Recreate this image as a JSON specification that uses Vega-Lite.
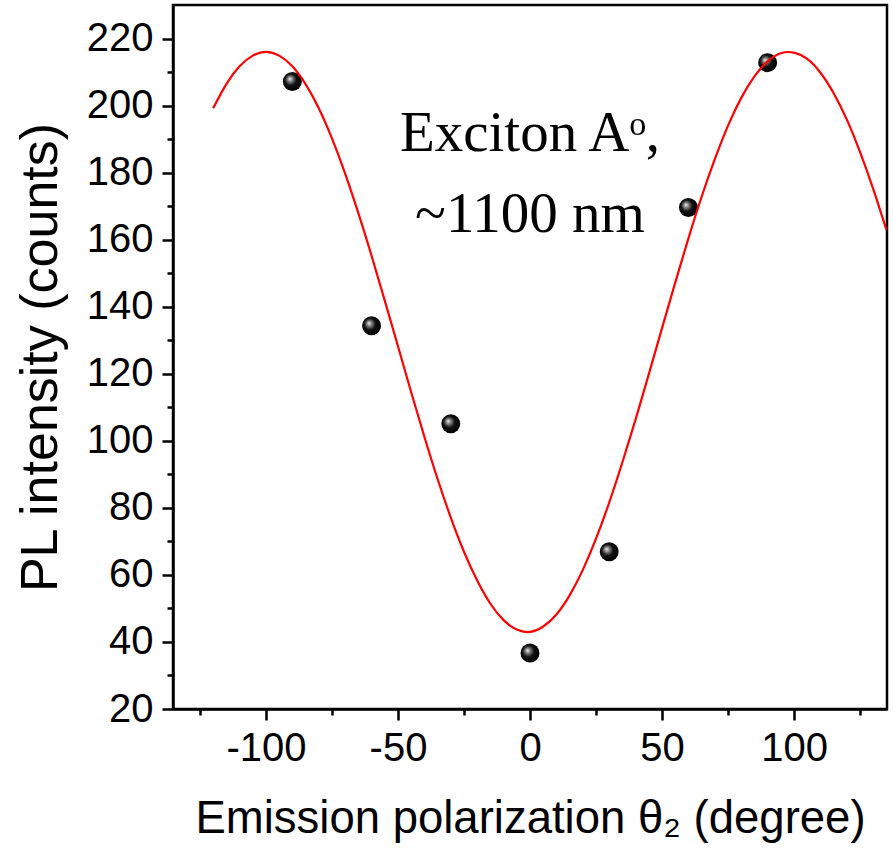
{
  "$schema": "https://vega.github.io/schema/vega-lite/v6.json",
  "width": 714,
  "height": 704,
  "autosize": "none",
  "padding": {"left": 173, "top": 5, "right": 6, "bottom": 144},
  "background": "white",
  "config": {
    "view": {"stroke": "black", "strokeWidth": 2.5},
    "font": "Liberation Sans",
    "axis": {
      "domainColor": "black", "domainWidth": 2.5, "tickColor": "black", "tickWidth": 2.5,
      "grid": false, "labelColor": "black", "titleColor": "black",
      "labelFont": "Liberation Sans", "titleFont": "Liberation Sans",
      "labelFontSize": 40, "titleFontSize": 45.5, "titleFontWeight": "normal"
    }
  },
  "datasets": {
    "pts": [
      {"angle": -90, "intensity": 207.2},
      {"angle": -60, "intensity": 134.3},
      {"angle": -30, "intensity": 105.1},
      {"angle": 0, "intensity": 36.7},
      {"angle": 30, "intensity": 66.9},
      {"angle": 60, "intensity": 169.6},
      {"angle": 90, "intensity": 212.8}
    ],
    "fit": [
      {"angle": -120, "intensity": 199.2}, {"angle": -115, "intensity": 206.4},
      {"angle": -110, "intensity": 211.7}, {"angle": -105, "intensity": 214.9},
      {"angle": -100, "intensity": 216.0}, {"angle": -95, "intensity": 214.9},
      {"angle": -90, "intensity": 211.7}, {"angle": -85, "intensity": 206.4},
      {"angle": -80, "intensity": 199.2}, {"angle": -75, "intensity": 190.2},
      {"angle": -70, "intensity": 179.7}, {"angle": -65, "intensity": 167.9},
      {"angle": -60, "intensity": 155.2}, {"angle": -55, "intensity": 141.8},
      {"angle": -50, "intensity": 128.2}, {"angle": -45, "intensity": 114.5},
      {"angle": -40, "intensity": 101.2}, {"angle": -35, "intensity": 88.6},
      {"angle": -30, "intensity": 77.1}, {"angle": -25, "intensity": 66.9},
      {"angle": -20, "intensity": 58.3}, {"angle": -15, "intensity": 51.4},
      {"angle": -10, "intensity": 46.5}, {"angle": -5, "intensity": 43.7},
      {"angle": 0, "intensity": 43.0}, {"angle": 5, "intensity": 44.6},
      {"angle": 10, "intensity": 48.2}, {"angle": 15, "intensity": 53.9},
      {"angle": 20, "intensity": 61.5}, {"angle": 25, "intensity": 70.8},
      {"angle": 30, "intensity": 81.6}, {"angle": 35, "intensity": 93.6},
      {"angle": 40, "intensity": 106.4}, {"angle": 45, "intensity": 119.9},
      {"angle": 50, "intensity": 133.6}, {"angle": 55, "intensity": 147.2},
      {"angle": 60, "intensity": 160.4}, {"angle": 65, "intensity": 172.8},
      {"angle": 70, "intensity": 184.0}, {"angle": 75, "intensity": 194.0},
      {"angle": 80, "intensity": 202.3}, {"angle": 85, "intensity": 208.7},
      {"angle": 90, "intensity": 213.2}, {"angle": 95, "intensity": 215.6},
      {"angle": 100, "intensity": 215.8}, {"angle": 105, "intensity": 213.9},
      {"angle": 110, "intensity": 209.8}, {"angle": 115, "intensity": 203.7},
      {"angle": 120, "intensity": 195.8}, {"angle": 125, "intensity": 186.1},
      {"angle": 130, "intensity": 175.1}, {"angle": 135, "intensity": 162.9}
    ],
    "notes": [
      {"label": "Exciton Aᵒ,", "angle": 0, "intensity": 186.3},
      {"label": "~1100 nm", "angle": 0, "intensity": 162.4}
    ]
  },
  "resolve": {"axis": {"x": "independent", "y": "independent"}},
  "layer": [
    {
      "data": {"name": "pts"},
      "mark": {"type": "point", "filled": true, "opacity": 1},
      "encoding": {
        "x": {"field": "angle", "type": "quantitative", "scale": {"domain": [-135.2, 135.2], "nice": false, "zero": false},
              "axis": {"orient": "bottom", "values": [-125, -75, -25, 25, 75, 125], "labels": false, "tickSize": 6, "domain": false, "title": null}},
        "y": {"field": "intensity", "type": "quantitative", "scale": {"domain": [20, 230], "nice": false, "zero": false},
              "axis": {"orient": "left", "values": [30, 50, 70, 90, 110, 130, 150, 170, 190, 210], "labels": false, "tickSize": 6, "domain": false, "title": null}}
      }
    },
    {
      "data": {"name": "pts"},
      "mark": {"type": "point", "filled": true, "size": 360, "opacity": 1, "strokeWidth": 0,
               "fill": {"gradient": "radial", "x1": 0.36, "y1": 0.36, "r1": 0, "x2": 0.45, "y2": 0.45, "r2": 0.55,
                        "stops": [{"offset": 0, "color": "#f4f4f4"}, {"offset": 0.22, "color": "#8a8a8a"}, {"offset": 0.55, "color": "#111111"}, {"offset": 1, "color": "#000000"}]}},
      "encoding": {
        "x": {"field": "angle", "type": "quantitative",
              "axis": {"orient": "bottom", "values": [-100, -50, 0, 50, 100], "tickSize": 11, "labelPadding": 8, "labelExpr": "'' + datum.value", "title": "Emission polarization θ₂ (degree)", "titlePadding": 28}},
        "y": {"field": "intensity", "type": "quantitative",
              "axis": {"orient": "left", "values": [20, 40, 60, 80, 100, 120, 140, 160, 180, 200, 220], "tickSize": 11, "labelPadding": 9, "title": "PL intensity (counts)", "titleFontSize": 52, "titlePadding": 19}}
      }
    },
    {
      "data": {"name": "fit"},
      "mark": {"type": "line", "color": "#ff0000", "strokeWidth": 2.2, "interpolate": "natural", "clip": true},
      "encoding": {
        "x": {"field": "angle", "type": "quantitative", "axis": null},
        "y": {"field": "intensity", "type": "quantitative", "axis": null}
      }
    },
    {
      "data": {"name": "notes"},
      "mark": {"type": "text", "font": "Liberation Serif", "fontSize": 57, "color": "black", "align": "center", "baseline": "alphabetic"},
      "encoding": {
        "x": {"field": "angle", "type": "quantitative", "axis": null},
        "y": {"field": "intensity", "type": "quantitative", "axis": null},
        "text": {"field": "label"}
      }
    }
  ]
}
